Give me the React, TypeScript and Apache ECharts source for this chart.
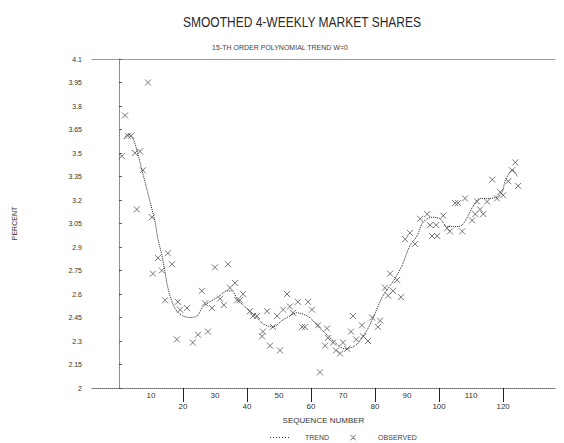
import React, { useEffect, useRef } from "react";
import * as echarts from "echarts";

const TITLE = "SMOOTHED 4-WEEKLY MARKET SHARES";
const SUBTITLE = "15-TH ORDER POLYNOMIAL TREND W=0";

const yTicks = [2, 2.15, 2.3, 2.45, 2.6, 2.75, 2.9, 3.05, 3.2, 3.35, 3.5, 3.65, 3.8, 3.95, 4.1];
const xLabels = [10, 20, 30, 40, 50, 60, 70, 80, 90, 100, 110, 120];
const xLongTicks = [20, 40, 60, 80, 100, 120];

const obsSeq = [
  0.9, 1.9, 2.8, 3.8, 5.0, 5.6, 6.6, 7.5, 9.1, 10.3,
  10.6, 12.2, 13.4, 14.4, 15.3, 16.6, 18.1, 18.4, 19.1, 21.3,
  23.1, 24.7, 25.9, 26.9, 27.8, 29.1, 30.0, 31.6, 32.8, 34.1,
  34.7, 36.3, 36.9, 37.8, 38.8, 40.9, 41.9, 43.1, 44.7, 45.0,
  46.3, 47.2, 48.1, 49.4, 50.3, 51.3, 52.5, 53.4, 54.4, 55.9,
  57.2, 58.1, 59.1, 60.3, 62.2, 62.8, 64.4, 65.0, 65.3, 66.9,
  67.8, 69.1, 70.0, 71.3, 72.5, 73.1, 74.1, 75.9, 76.3, 77.8,
  79.1, 80.9, 81.6, 83.1, 84.1, 84.7, 85.6, 86.9, 88.1, 89.4,
  90.9, 92.5, 94.1, 96.3, 97.2, 97.8, 99.1, 99.4, 101.3, 102.5,
  103.4, 105.0, 105.9, 107.2, 108.1, 110.3, 111.3, 111.9, 112.8, 113.8,
  115.0, 116.6, 118.1, 119.1, 120.0, 121.6, 122.8, 123.8, 124.7,
];
const obsVal = [
  3.48, 3.74, 3.61, 3.61, 3.50, 3.14, 3.51, 3.39, 3.95, 3.09,
  2.73, 2.83, 2.75, 2.56, 2.86, 2.79, 2.31, 2.55, 2.50, 2.51,
  2.29, 2.34, 2.62, 2.54, 2.36, 2.51, 2.77, 2.57, 2.53, 2.79,
  2.64, 2.67, 2.56, 2.56, 2.60, 2.49, 2.46, 2.46, 2.33, 2.36,
  2.49, 2.27, 2.39, 2.46, 2.24, 2.50, 2.60, 2.52, 2.48, 2.55,
  2.39, 2.39, 2.55, 2.50, 2.40, 2.10, 2.27, 2.38, 2.32, 2.29,
  2.24, 2.22, 2.29, 2.25, 2.36, 2.46, 2.31, 2.40, 2.33, 2.30,
  2.45, 2.39, 2.43, 2.64, 2.59, 2.73, 2.62, 2.69, 2.58, 2.95,
  2.99, 2.92, 3.08, 3.11, 3.04, 2.97, 3.04, 2.97, 3.10, 3.02,
  3.00, 3.18, 3.18, 3.00, 3.21, 3.07, 3.11, 3.19, 3.14, 3.11,
  3.19, 3.33, 3.21, 3.25, 3.23, 3.32, 3.39, 3.44, 3.29,
];

const trendSeq = [
  1.6, 2.8, 4.4, 5.3, 6.6, 8.1, 9.7, 11.3, 12.2, 13.4,
  14.4, 15.3, 16.6, 18.1, 20.0, 22.2, 24.4, 26.3, 28.4, 30.9,
  33.8, 35.3, 36.9, 38.8, 40.9, 43.1, 45.0, 48.1, 50.9, 53.4,
  55.6, 58.8, 60.6, 62.8, 65.0, 67.5, 70.6, 73.8, 75.9, 77.8,
  79.4, 82.5, 85.6, 88.4, 90.9, 93.1, 94.7, 96.3, 98.1, 100.3,
  102.5, 105.6, 107.2, 108.8, 110.6, 112.8, 115.9, 118.1, 119.7, 120.6,
  122.2, 123.1, 124.4,
];
const trendVal = [
  3.59, 3.62, 3.59, 3.54, 3.44, 3.32, 3.19, 3.06, 2.95, 2.85,
  2.74, 2.64, 2.55, 2.49, 2.46, 2.45, 2.46, 2.52, 2.55, 2.58,
  2.62, 2.62, 2.57, 2.53, 2.49, 2.45, 2.41, 2.39, 2.43, 2.46,
  2.48, 2.46, 2.43, 2.38, 2.34, 2.29, 2.25, 2.27, 2.32, 2.38,
  2.45, 2.59, 2.68, 2.78, 2.91, 2.97, 3.05, 3.08, 3.09, 3.08,
  3.03, 3.03, 3.04, 3.09, 3.16, 3.21, 3.21, 3.22, 3.25, 3.32,
  3.38, 3.39, 3.35,
];

const FONT = "Liberation Sans, Arial, sans-serif";

// legend icons (20 x 6 boxes, with tiny corner marks to fix the aspect)
const CORNERS = "M0,0h0.05v0.05h-0.05z M19.95,5.95h0.05v0.05h-0.05z";
const DOTTED_ICON =
  "path://" +
  CORNERS +
  " M0,2.5h1v1h-1z M3,2.5h1v1h-1z M6,2.5h1v1h-1z M9,2.5h1v1h-1z M12,2.5h1v1h-1z M15,2.5h1v1h-1z M18,2.5h1v1h-1z";
const CROSS_ICON =
  "path://" +
  CORNERS +
  " M7,0.6L7.6,0L13,5.4L12.4,6Z M12.4,0L13,0.6L7.6,6L7,5.4Z";

export default function App() {
  const ref = useRef<HTMLDivElement>(null);
  useEffect(() => {
    document.body.style.margin = "0";
    if (!ref.current) return;
    const chart = echarts.init(ref.current, null, { renderer: "svg" });
    const X_MIN = -8.4;
    const X_MAX = 136.2;
    chart.setOption({
      animation: false,
      backgroundColor: "#ffffff",
      textStyle: { fontFamily: FONT },
      grid: { left: 92, right: 9, top: 59, bottom: 55, containLabel: false },
      graphic: [
        {
          type: "text",
          x: 302,
          y: 22,
          scaleX: 0.8,
          style: {
            text: TITLE,
            font: "15px 'Liberation Sans', Arial, sans-serif",
            fill: "#2a2a2a",
            textAlign: "center",
            textVerticalAlign: "middle",
          },
        },
        {
          type: "text",
          x: 280,
          y: 47,
          style: {
            text: SUBTITLE,
            font: "7px 'Liberation Sans', Arial, sans-serif",
            fill: "#444",
            textAlign: "center",
            textVerticalAlign: "middle",
          },
        },
      ],
      legend: {
        left: 270,
        top: 434,
        padding: 0,
        itemWidth: 20,
        itemHeight: 6,
        itemGap: 14,
        textStyle: { fontSize: 7, color: "#444", padding: [0, 0, 0, 10] },
        data: [
          { name: "TREND", icon: DOTTED_ICON, itemStyle: { color: "#333", borderWidth: 0 } },
          { name: "OBSERVED", icon: CROSS_ICON, itemStyle: { color: "#555", borderWidth: 0 } },
        ],
      },
      xAxis: [
        {
          type: "value",
          min: X_MIN,
          max: X_MAX,
          name: "SEQUENCE NUMBER",
          nameLocation: "middle",
          nameGap: 18,
          nameTextStyle: { fontSize: 8, color: "#333" },
          axisLine: { lineStyle: { color: "#666", type: "dotted", width: 1 } },
          axisTick: {
            show: true,
            customValues: xLongTicks,
            length: 14,
            lineStyle: { color: "#222", width: 1 },
          },
          axisLabel: {
            customValues: xLabels,
            fontSize: 8,
            color: "#333",
            margin: 2,
            lineHeight: 11,
            formatter: (v: number) => (v % 20 === 0 ? "\n" + v : String(v)),
          },
          splitLine: { show: false },
        },
        {
          type: "value",
          position: "top",
          min: X_MIN,
          max: X_MAX,
          axisLine: { lineStyle: { color: "#888", type: "dotted", width: 1 } },
          axisTick: { show: false },
          axisLabel: { show: false },
          splitLine: { show: false },
        },
      ],
      yAxis: {
        type: "value",
        min: 2,
        max: 4.1,
        name: "PERCENT",
        nameLocation: "middle",
        nameGap: 74,
        nameRotate: 90,
        nameTextStyle: { fontSize: 7, color: "#333" },
        axisLine: { show: true, lineStyle: { color: "#777", type: "dotted", width: 1 } },
        axisTick: {
          show: true,
          inside: true,
          length: 3,
          customValues: yTicks,
          lineStyle: { color: "#555" },
        },
        axisLabel: {
          customValues: yTicks,
          fontSize: 7,
          color: "#333",
          margin: 10,
          formatter: (v: number) => String(Math.round(v * 100) / 100),
        },
        splitLine: { show: false },
      },
      series: [
        {
          name: "TREND",
          type: "line",
          symbol: "none",
          smooth: 0.3,
          data: trendSeq.map((s, i) => [s, trendVal[i]]),
          lineStyle: { color: "#222", width: 1, type: "dotted" },
          itemStyle: { color: "#222" },
          z: 3,
        },
        {
          name: "OBSERVED",
          type: "scatter",
          symbol: "path://M0,0L10,10M10,0L0,10",
          symbolSize: 6,
          data: obsSeq.map((s, i) => [s, obsVal[i]]),
          itemStyle: { color: "transparent", borderColor: "#555", borderWidth: 1 },
          z: 2,
        },
      ],
    });
    return () => chart.dispose();
  }, []);
  return <div ref={ref} style={{ width: 564, height: 443 }} />;
}
